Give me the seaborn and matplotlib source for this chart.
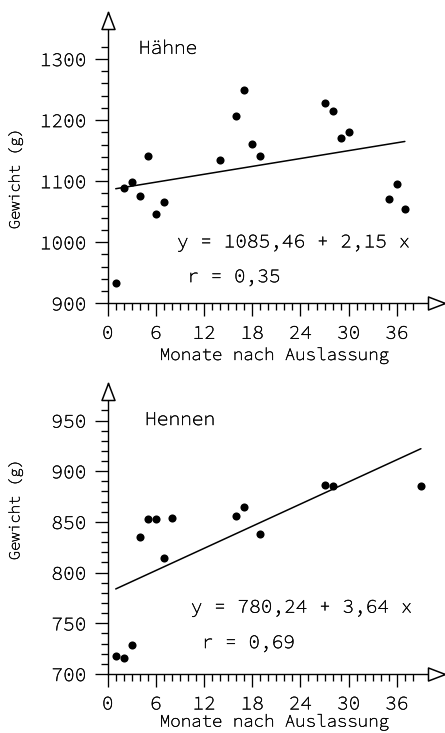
import numpy as np
import pandas as pd
import matplotlib
matplotlib.use("Agg")
import matplotlib.pyplot as plt
import matplotlib.patheffects as pe
from matplotlib.path import Path
from matplotlib.text import Text
from matplotlib.ticker import FixedLocator
import seaborn as sns

# Hähne: Monate nach Auslassung und Gewicht (g)
haehne_monate = [1, 2, 3, 4, 5, 6, 7, 14, 16, 17, 18, 19, 27, 28, 29, 30, 35, 36, 37]
haehne_gewicht = [933, 1089, 1099, 1075, 1141, 1047, 1066, 1135, 1206, 1250,
                  1161, 1141, 1228, 1215, 1171, 1180, 1070, 1096, 1055]
haehne_a, haehne_b, haehne_r = 1085.46, 2.15, 0.35

# Hennen
hennen_monate = [1, 2, 3, 4, 5, 6, 7, 8, 16, 17, 19, 27, 28, 39]
hennen_gewicht = [718, 716, 729, 835, 853, 853, 814, 854, 856, 865, 838, 886, 885, 885]
hennen_a, hennen_b, hennen_r = 780.24, 3.64, 0.69

x_ticks = [0, 6, 12, 18, 24, 30, 36]
haehne_yticks = [900, 1000, 1100, 1200, 1300]
hennen_yticks = [700, 750, 800, 850, 900, 950]

x_label = "Monate nach Auslassung"
y_label = "Gewicht (g)"

sns.set_theme(style="white")
plt.rcParams["font.family"] = ["Source Code Pro", "DejaVu Sans Mono", "DejaVu Sans"]
plt.rcParams["text.color"] = "black"
plt.rcParams["axes.labelcolor"] = "black"
plt.rcParams["xtick.color"] = "black"
plt.rcParams["ytick.color"] = "black"

fig = plt.figure(figsize=(4.45, 7.33), dpi=100)

LEFT = 107.7 / 445
WIDTH = 1 - LEFT
ax_top = fig.add_axes([LEFT, (733 - 303.3) / 733, WIDTH, (303.3 - 12) / 733])
ax_bot = fig.add_axes([LEFT, (733 - 674) / 733, WIDTH, (674 - 383) / 733])

# open arrow heads, tip at the anchor point
UP = Path([(0, 0), (-6.5, -17), (6.5, -17), (0, 0)], closed=True)
RIGHT = Path([(0, 0), (-17, 6.5), (-17, -6.5), (0, 0)], closed=True)

FS = 14


def fmt(v):
    return f"{v:.2f}".replace(".", ",")


def panel(ax, monate, gewicht, a, b, r, yticks, ylim, yminor_step, yminor_max,
          title, title_xy, eq_xy, r_xy, ylabel_y, xlabel_y):
    df = pd.DataFrame({"Monate": monate, "Gewicht": gewicht})
    fit = pd.DataFrame({"Monate": [min(monate), max(monate)]})
    fit["Gewicht"] = a + b * fit["Monate"]

    sns.lineplot(data=fit, x="Monate", y="Gewicht", color="black",
                 linewidth=1.1, ax=ax, zorder=2)
    sns.scatterplot(data=df, x="Monate", y="Gewicht", color="black",
                    s=34, linewidth=0, ax=ax, zorder=3)

    ax.set_xlim(0, 42.0)
    ax.set_ylim(*ylim)

    for side in ("top", "right"):
        ax.spines[side].set_visible(False)
    for side in ("left", "bottom"):
        ax.spines[side].set_color("black")
        ax.spines[side].set_linewidth(1.0)

    ax.xaxis.set_major_locator(FixedLocator(x_ticks))
    ax.xaxis.set_minor_locator(FixedLocator([m for m in range(1, 39) if m % 6]))
    ax.yaxis.set_major_locator(FixedLocator(yticks))
    ax.yaxis.set_minor_locator(FixedLocator(
        [v for v in np.arange(yticks[0], yminor_max + 1, yminor_step) if v not in yticks]))
    ax.set_xticklabels([str(t) for t in x_ticks])
    ax.set_yticklabels([str(t) for t in yticks])

    ax.tick_params(which="major", direction="out", length=9.4, width=0.95,
                   labelsize=FS, pad=6)
    ax.tick_params(which="minor", direction="out", length=5.0, width=0.95)
    ax.tick_params(axis="x", which="both", bottom=True)
    ax.tick_params(axis="y", which="both", left=True)

    ax.set_xlabel(x_label, fontsize=12.5)
    ax.xaxis.set_label_coords(0.493, xlabel_y)
    ax.set_ylabel(y_label, fontsize=11)
    ax.yaxis.set_label_coords(-0.25, ylabel_y)

    ax.plot([0], [1], marker=UP, markersize=24.5, markerfacecolor="white",
            markeredgecolor="black", markeredgewidth=1.1,
            transform=ax.transAxes, clip_on=False, zorder=6, linestyle="none")
    ax.plot([1], [0], marker=RIGHT, markersize=24.5, markerfacecolor="white",
            markeredgecolor="black", markeredgewidth=1.1,
            transform=ax.transAxes, clip_on=False, zorder=6, linestyle="none")

    ax.text(*title_xy, title, fontsize=FS, ha="center", va="center")
    ax.text(*eq_xy, f"y = {fmt(a)} + {fmt(b)} x", fontsize=FS,
            ha="center", va="center")
    ax.text(*r_xy, f"r = {fmt(r)}", fontsize=FS, ha="center", va="center")


panel(ax_top, haehne_monate, haehne_gewicht, haehne_a, haehne_b, haehne_r,
      haehne_yticks, (900, 1377), 20, 1320, "Hähne",
      (7.5, 1316), (23.1, 999), (15.7, 942), 0.427, -0.150)
panel(ax_bot, hennen_monate, hennen_gewicht, hennen_a, hennen_b, hennen_r,
      hennen_yticks, (700, 987), 10, 960, "Hennen",
      (9.0, 950), (24.1, 765), (17.5, 730), 0.564, -0.136)

# slightly heavier strokes for the thin plotter-style lettering
for t in fig.findobj(Text):
    t.set_path_effects([pe.withStroke(linewidth=0.3, foreground="black")])

fig.savefig("out.png", dpi=100, facecolor="white")
